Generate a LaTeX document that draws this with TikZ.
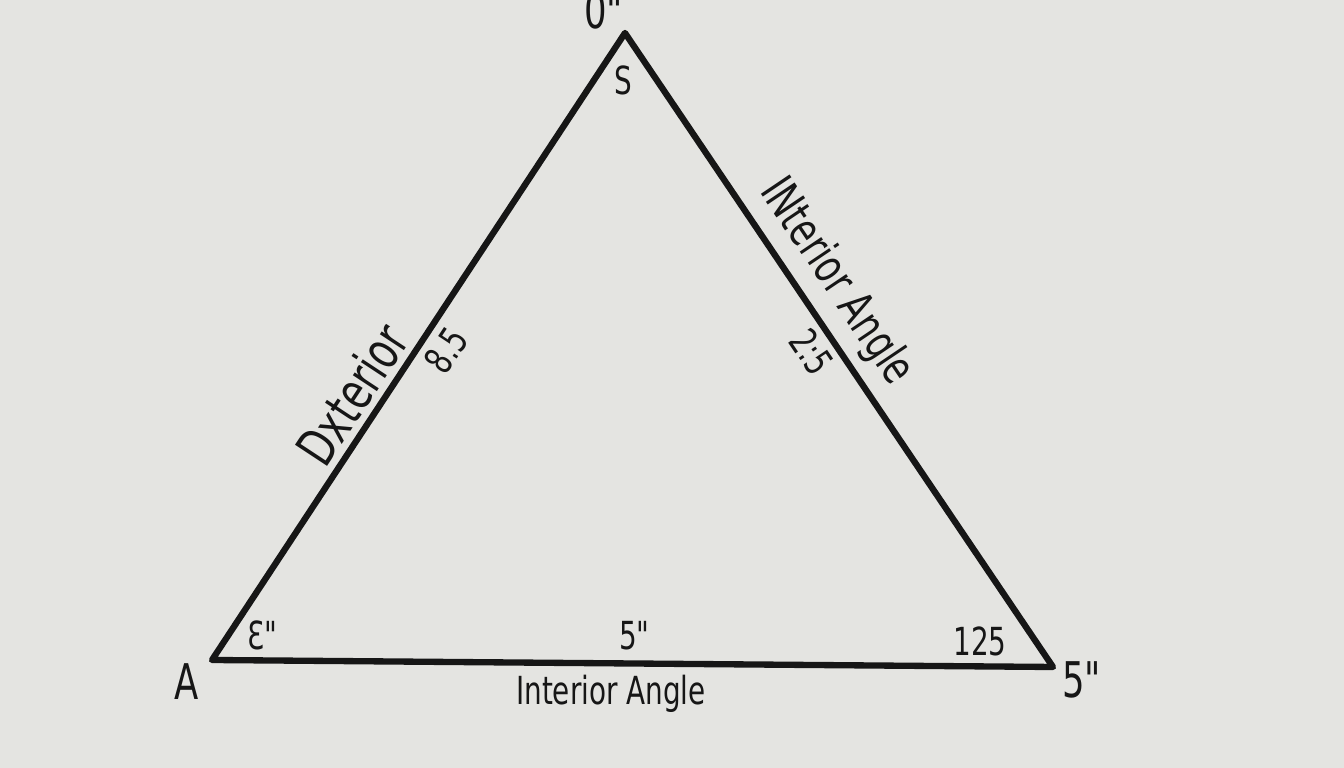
\documentclass[tikz,border=0pt]{standalone}
\usepackage{fontspec}
\setmainfont{DejaVu Sans}[FakeStretch=0.72]
\usepackage{tikz}
\definecolor{paper}{RGB}{228,228,225}
\definecolor{ink}{RGB}{22,22,22}
\tikzset{
	sidestyle/.style={draw=ink,line width=1.8pt,line join=round,line cap=round},
	labelstyle/.style={inner sep=0pt,text=ink,font=\fontsize{11}{13}\selectfont},
	biglabelstyle/.style={inner sep=0pt,text=ink,font=\fontsize{14}{16}\selectfont}
}
\begin{document}
\begin{tikzpicture}
		\useasboundingbox (0,0) rectangle (13.44,7.68);
		\clip (0,0) rectangle (13.44,7.68);
		\fill[paper] (0,0) rectangle (13.44,7.68);
		\coordinate (a) at (2.12,1.08);
		\coordinate (s) at (6.25,7.35);
		\coordinate (r) at (10.53,1.01);
		\draw[sidestyle] (a)--(s)--(r)--cycle;
		% corner labels
		\node[biglabelstyle] (lA) at (1.87,0.86) {A};
		\node[biglabelstyle] (lR) at (10.85,0.88) {5\textquotedbl};
		\node[biglabelstyle] (lT) at (6.07,7.57) {0\textquotedbl};
		\node[labelstyle] (angA) at (2.65,1.33) {Ɛ\textquotedbl};
		\node[labelstyle] (angS) at (6.23,6.88) {S};
		\node[labelstyle] (angR) at (9.80,1.27) {125};
		% side labels
		\node[labelstyle] (base) at (6.37,1.32) {5\textquotedbl};
		\node[labelstyle] (baseText) at (6.11,0.74) {Interior Angle};
		\node[labelstyle,rotate=56.6,font=\fontsize{15}{17}\selectfont] (leftText) at (3.52,3.74) {Dxterior};
		\node[labelstyle,rotate=56.6] (leftLen) at (4.46,4.18) {8.5};
		\node[labelstyle,rotate=-56,font=\fontsize{13.5}{15}\selectfont] (rightText) at (8.36,4.86) {INterior Angle};
		\node[labelstyle,rotate=-56] (rightLen) at (8.12,4.16) {2:5};
\end{tikzpicture}
\end{document}
